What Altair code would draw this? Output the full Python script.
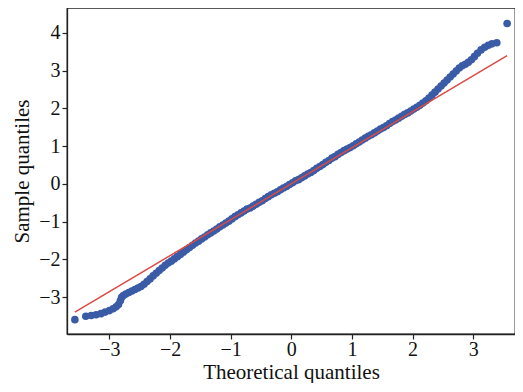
import altair as alt
import pandas as pd

# Theoretical quantiles (x) and sample quantiles (y)
theo = [
    -3.57, -3.39, -3.30, -3.22, -3.14, -3.07, -3.00, -2.94, -2.89, -2.85,
    -2.82, -2.80, -2.77, -2.73, -2.68, -2.63, -2.58, -2.53, -2.48, -2.43,
    -2.38, -2.33, -2.28, -2.23, -2.18, -2.13, -2.08, -2.03, -1.98, -1.93,
    -1.88, -1.83, -1.78, -1.73, -1.68, -1.63, -1.58, -1.53, -1.48, -1.43,
    -1.38, -1.33, -1.28, -1.23, -1.18, -1.13, -1.08, -1.03, -0.98, -0.93,
    -0.88, -0.83, -0.78, -0.73, -0.68, -0.63, -0.58, -0.53, -0.48, -0.43,
    -0.38, -0.33, -0.28, -0.23, -0.18, -0.13, -0.08, -0.03, 0.02, 0.07,
    0.12, 0.17, 0.22, 0.27, 0.32, 0.37, 0.42, 0.47, 0.52, 0.57,
    0.62, 0.67, 0.72, 0.77, 0.82, 0.87, 0.92, 0.97, 1.02, 1.07,
    1.12, 1.17, 1.22, 1.27, 1.32, 1.37, 1.42, 1.47, 1.52, 1.57,
    1.62, 1.67, 1.72, 1.77, 1.82, 1.87, 1.92, 1.97, 2.02, 2.07,
    2.12, 2.17, 2.22, 2.27, 2.32, 2.37, 2.42, 2.47, 2.52, 2.57,
    2.62, 2.67, 2.72, 2.77, 2.82, 2.87, 2.92, 2.97, 3.02, 3.07,
    3.13, 3.19, 3.25, 3.31, 3.39, 3.56,
]
sample = [
    -3.60, -3.51, -3.49, -3.47, -3.44, -3.40, -3.36, -3.31, -3.26, -3.20,
    -3.10, -3.01, -2.96, -2.92, -2.88, -2.84, -2.80, -2.76, -2.72, -2.66,
    -2.59, -2.52, -2.44, -2.37, -2.30, -2.23, -2.16, -2.10, -2.05, -1.99,
    -1.93, -1.87, -1.81, -1.75, -1.69, -1.63, -1.57, -1.52, -1.46, -1.41,
    -1.35, -1.30, -1.25, -1.20, -1.14, -1.09, -1.04, -0.99, -0.93, -0.87,
    -0.82, -0.77, -0.72, -0.67, -0.64, -0.59, -0.54, -0.49, -0.45, -0.39,
    -0.34, -0.29, -0.25, -0.21, -0.16, -0.11, -0.07, -0.02, 0.03, 0.08,
    0.11, 0.16, 0.21, 0.26, 0.30, 0.35, 0.41, 0.46, 0.51, 0.57,
    0.62, 0.68, 0.72, 0.78, 0.83, 0.88, 0.92, 0.96, 1.01, 1.06,
    1.11, 1.16, 1.21, 1.26, 1.30, 1.35, 1.40, 1.45, 1.49, 1.54,
    1.60, 1.65, 1.69, 1.74, 1.79, 1.84, 1.88, 1.93, 1.98, 2.03,
    2.08, 2.14, 2.20, 2.27, 2.35, 2.43, 2.51, 2.59, 2.67, 2.75,
    2.83, 2.91, 2.99, 3.07, 3.13, 3.17, 3.22, 3.29, 3.37, 3.46,
    3.55, 3.62, 3.67, 3.71, 3.74, 4.25,
]

# Reference line endpoints
line_x = [-3.57, 3.56]
line_y = [-3.40, 3.40]

x_ticks = [-3, -2, -1, 0, 1, 2, 3]
y_ticks = [-3, -2, -1, 0, 1, 2, 3, 4]
x_domain = [-3.70, 3.69]
y_domain = [-3.98, 4.66]

pts = pd.DataFrame({"x": theo, "y": sample})
ln = pd.DataFrame({"x": line_x, "y": line_y})

FONT = "Liberation Serif"
W, H = 448, 326

xs = alt.Scale(domain=x_domain, nice=False, zero=False)
ys = alt.Scale(domain=y_domain, nice=False, zero=False)

x_axis = alt.Axis(
    title="Theoretical quantiles", values=x_ticks, format="d", grid=False,
    titleBaseline="alphabetic", titleX=W / 2, titleY=44.5, titleAnchor="middle",
)
y_axis = alt.Axis(
    title="Sample quantiles", values=y_ticks, format="d", grid=False,
    titleBaseline="alphabetic", titleX=-39, titleY=H / 2, titleAnchor="middle",
)

points = alt.Chart(pts).mark_circle(size=58, color="#3a5ba6", opacity=1).encode(
    x=alt.X("x:Q", scale=xs, axis=x_axis),
    y=alt.Y("y:Q", scale=ys, axis=y_axis),
)

line = alt.Chart(ln).mark_line(color="#dc4a44", strokeWidth=1.5).encode(
    x=alt.X("x:Q", scale=xs),
    y=alt.Y("y:Q", scale=ys),
)

chart = (
    alt.layer(points, line)
    .properties(
        width=W,
        height=H,
        autosize=alt.AutoSizeParams(type="none"),
        padding={"left": 59, "top": 0, "right": 0, "bottom": 49},
    )
    .configure_view(stroke="#222222", strokeWidth=1.3)
    .configure_axis(
        domainColor="#222222",
        domainWidth=1.3,
        tickColor="#222222",
        tickSize=5,
        tickWidth=1.2,
        labelFont=FONT,
        labelFontSize=20,
        labelColor="#111111",
        titleFont=FONT,
        titleFontSize=21,
        titleFontWeight="normal",
        titleColor="#111111",
    )
    .configure_axisX(labelPadding=0)
    .configure_axisY(labelPadding=2)
)

chart.save("out.html", embed_options={"renderer": "svg", "actions": False})
